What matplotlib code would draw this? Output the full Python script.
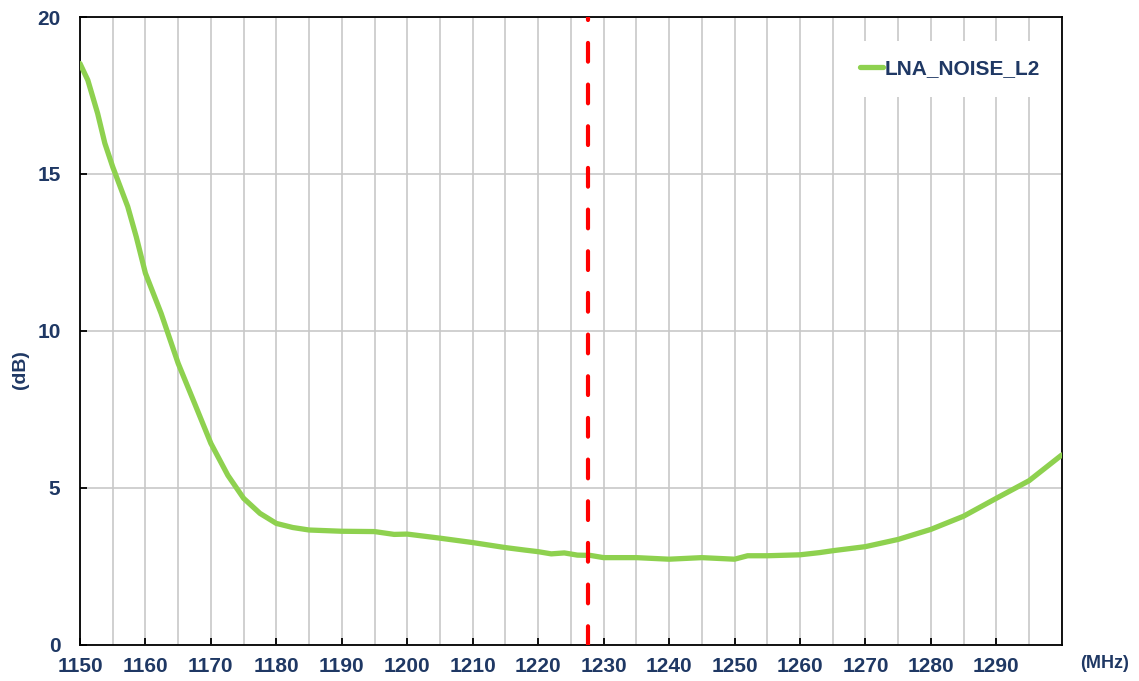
import matplotlib
matplotlib.use("Agg")
import matplotlib.pyplot as plt
from matplotlib.ticker import MultipleLocator

plt.rcParams['font.family'] = ['Liberation Sans', 'DejaVu Sans']
plt.rcParams['font.weight'] = 'bold'

# data
freq = [1150, 1151.2, 1152.7, 1153.8, 1155, 1157.3, 1158.6, 1160, 1162.4, 1165, 1167.5,
        1170, 1172.6, 1175, 1177.5, 1180, 1182.5, 1185, 1190, 1195,
        1198, 1200, 1205, 1210, 1215, 1218, 1220, 1222, 1224, 1226, 1228, 1230, 1235,
        1240, 1245, 1250, 1252, 1255, 1260, 1263, 1265, 1270, 1275, 1280, 1285, 1290,
        1295, 1300]
noise = [18.52, 17.99, 16.93, 15.98, 15.23, 13.96, 13.0, 11.84, 10.56, 8.97, 7.7,
         6.42, 5.4, 4.67, 4.19, 3.87, 3.74, 3.66, 3.62, 3.61,
         3.52, 3.53, 3.4, 3.26, 3.1, 3.02, 2.97, 2.9, 2.93, 2.86, 2.85, 2.78, 2.78,
         2.73, 2.78, 2.73, 2.84, 2.84, 2.87, 2.94, 3.0, 3.13, 3.36, 3.68, 4.1, 4.67,
         5.23, 6.05]
marker_freq = 1227.6
series_name = "LNA_NOISE_L2"
xticks = list(range(1150, 1300, 10))

navy = "#1f3864"

fig = plt.figure(figsize=(11.39, 6.81), dpi=100)
ax = fig.add_axes([0.0702, 0.053, 0.862, 0.922])

ax.plot(freq, noise, color="#8ed14f", lw=3.8, label=series_name,
        solid_capstyle="round", solid_joinstyle="round", zorder=3)
ax.axvline(marker_freq, color="#ff0000", lw=3.0, dashes=(4.5, 5.5), dash_capstyle="round", zorder=4)

ax.set_xlim(1150, 1300)
ax.set_ylim(0, 20)
ax.set_xticks(xticks)
ax.xaxis.set_minor_locator(MultipleLocator(5))
ax.yaxis.set_major_locator(MultipleLocator(5))
ax.grid(True, which="both", axis="x", color="#c8c8c8", lw=1.2, zorder=0)
ax.grid(True, which="major", axis="y", color="#c8c8c8", lw=1.2, zorder=0)
ax.tick_params(which="major", direction="in", length=5, width=1.3, color="black",
               labelsize=15, labelcolor=navy)
ax.tick_params(axis="x", pad=9)
ax.tick_params(axis="y", pad=14)
ax.tick_params(which="minor", length=0)
for s in ax.spines.values():
    s.set_color("black")
    s.set_linewidth(1.3)

fig.text(0.018, 0.457, "(dB)", color=navy, fontsize=14, fontweight="bold",
         rotation=90, ha="center", va="center")
fig.text(0.97, 0.026, "(MHz)", color=navy, fontsize=13, fontweight="bold", ha="center", va="center")

leg = ax.legend(loc="upper right", bbox_to_anchor=(1.008, 0.979), fontsize=15, frameon=True,
                fancybox=False, handlelength=1.1, handletextpad=0.1, borderpad=0.9)
leg.get_frame().set_facecolor("white")
leg.get_frame().set_edgecolor("none")
leg.get_frame().set_alpha(1)
for t in leg.get_texts():
    t.set_color(navy)

fig.savefig("out.png", dpi=100)
